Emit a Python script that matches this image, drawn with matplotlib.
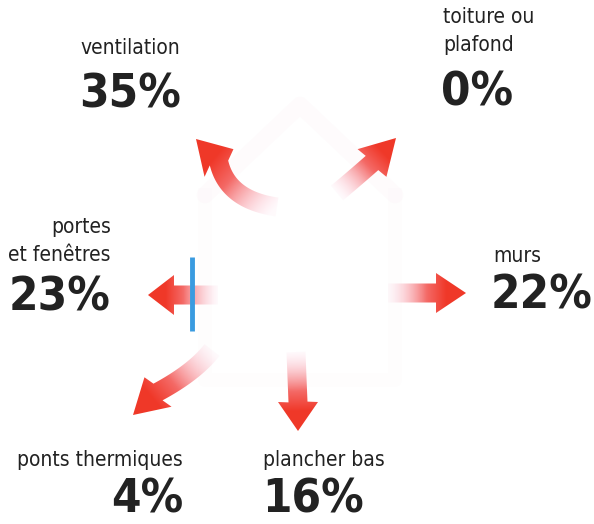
import numpy as np
import matplotlib
matplotlib.use("Agg")
import matplotlib.pyplot as plt
from matplotlib.path import Path
from matplotlib.patches import PathPatch
from matplotlib import font_manager

# ---- data ----
categories = ["ventilation", "toiture ou\nplafond", "portes\net fenêtres",
              "murs", "ponts thermiques", "plancher bas"]
values = [35, 0, 23, 22, 4, 16]

names = {f.name for f in font_manager.fontManager.ttflist}
fam = "Liberation Sans Narrow" if "Liberation Sans Narrow" in names else "DejaVu Sans"
plt.rcParams['font.family'] = [fam, 'DejaVu Sans']

W, H = 594, 524
fig = plt.figure(figsize=(W / 100, H / 100), dpi=100)
ax = fig.add_axes([0, 0, 1, 1])
ax.set_xlim(0, W)
ax.set_ylim(H, 0)
ax.axis('off')


def bezier(p0, p1, p2, n=40):
    t = np.linspace(0, 1, n)[:, None]
    p0, p1, p2 = map(np.asarray, (p0, p1, p2))
    return (1 - t) ** 2 * p0 + 2 * (1 - t) * t * p1 + t ** 2 * p2


def arrow(tail, ctrl, base, tip, sw=19, hw=40):
    c = bezier(tail, ctrl, base)
    d = np.gradient(c, axis=0)
    d /= np.linalg.norm(d, axis=1)[:, None]
    nrm = np.stack([-d[:, 1], d[:, 0]], axis=1)
    left = c + nrm * sw / 2
    right = c - nrm * sw / 2
    b = np.asarray(base, float)
    tp = np.asarray(tip, float)
    hd = (tp - b) / np.linalg.norm(tp - b)
    hn = np.array([-hd[1], hd[0]])
    pts = np.vstack([left, b + hn * hw / 2, tp, b - hn * hw / 2, right[::-1], left[:1]])
    path = Path(pts, closed=True)
    patch = PathPatch(path, facecolor='none', edgecolor='none')
    ax.add_patch(patch)
    x0, y0 = pts.min(0) - 2
    x1, y1 = pts.max(0) + 2
    xs = np.linspace(x0, x1, 120)
    ys = np.linspace(y0, y1, 120)
    X, Y = np.meshgrid(xs, ys)
    ta = np.asarray(tail, float)
    v = tp - ta
    t = ((X - ta[0]) * v[0] + (Y - ta[1]) * v[1]) / (v @ v)
    t = np.clip(t, 0, 1)
    red = np.array([0.94, 0.22, 0.16])
    pink = np.array([0.99, 0.80, 0.88])
    s = np.clip(t / 0.75, 0, 1)[..., None]
    rgb = pink * (1 - s) + red * s
    alpha = np.clip(0.1 + t * 1.8, 0, 1)[..., None]
    img = np.concatenate([rgb, alpha], axis=2)
    im = ax.imshow(img, extent=(x0, x1, y1, y0), origin='upper', zorder=2,
                   interpolation='bilinear')
    im.set_clip_path(patch)


# faint house glow
ax.plot([205, 300, 395], [195, 105, 195], color=(0.99, 0.85, 0.9), lw=12, alpha=0.10,
        solid_capstyle='round', zorder=1)
ax.plot([205, 205, 395, 395], [195, 380, 380, 195], color=(0.99, 0.88, 0.92), lw=10,
        alpha=0.06, zorder=1)

# arrows
arrow((277, 207), (228, 200), (219, 163), (196, 139))           # ventilation
arrow((337, 193), (355, 178), (372, 163), (396, 138))           # toiture
arrow((218, 295), (195, 295), (174, 295), (148, 295))           # portes
arrow((388, 293), (412, 293), (436, 293), (466, 293))           # murs
arrow((212, 350), (195, 372), (158, 392), (133, 415))           # ponts
arrow((296, 352), (297, 378), (298, 402), (298, 431))           # plancher

# window (blue)
ax.plot([192, 192], [257, 331], color='#3a9be0', lw=3.5, zorder=3, solid_capstyle='butt')

tc = '#222222'
lab = dict(fontsize=15, color=tc, zorder=5, fontstretch='condensed')
num = dict(fontsize=34, color=tc, fontweight='bold', zorder=5, fontstretch='condensed')

# ventilation
ax.text(130, 48, categories[0], ha='center', va='center', **lab)
ax.text(130, 95, f"{values[0]}%", ha='center', va='center', **num)
# toiture
ax.text(443, 31, categories[1], ha='left', va='center', linespacing=1.45, **lab)
ax.text(441, 93, f"{values[1]}%", ha='left', va='center', **num)
# portes
ax.text(111, 241, categories[2], ha='right', va='center', linespacing=1.45, **lab)
ax.text(110, 298, f"{values[2]}%", ha='right', va='center', **num)
# murs
ax.text(493, 256, categories[3], ha='left', va='center', **lab)
ax.text(491, 296, f"{values[3]}%", ha='left', va='center', **num)
# ponts
ax.text(17, 460, categories[4], ha='left', va='center', **lab)
ax.text(183, 500, f"{values[4]}%", ha='right', va='center', **num)
# plancher
ax.text(263, 460, categories[5], ha='left', va='center', **lab)
ax.text(262, 500, f"{values[5]}%", ha='left', va='center', **num)

fig.savefig("out.png", dpi=100)
